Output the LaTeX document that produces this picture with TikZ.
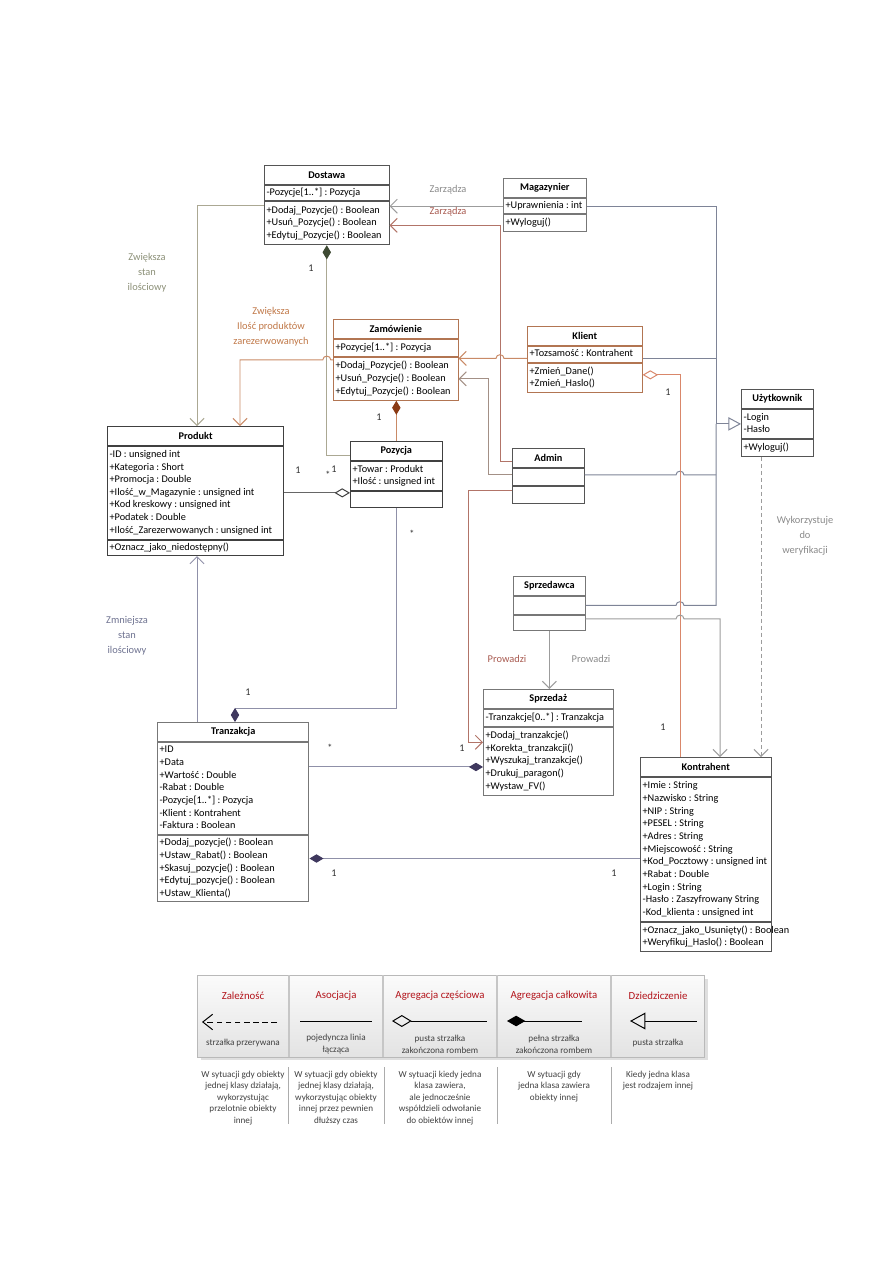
\documentclass[tikz,border=0pt]{standalone}
\usepackage{fontspec}
\setmainfont{Carlito}
\usepackage{tikz}
\usetikzlibrary{arrows.meta,calc,shadows}
\frenchspacing
\definecolor{clDark}{HTML}{555555}
\definecolor{clGray}{HTML}{777777}
\definecolor{clBrown}{HTML}{B27552}
\definecolor{lnGray}{HTML}{9C9C9C}
\definecolor{lnRed}{HTML}{B27468}
\definecolor{lnMauve}{HTML}{A39086}
\definecolor{lnOrange}{HTML}{C98A66}
\definecolor{lnCoral}{HTML}{D9876A}
\definecolor{lnOlive}{HTML}{ABA893}
\definecolor{lnSlate}{HTML}{8F90A8}
\definecolor{lnBlue}{HTML}{7E8497}
\definecolor{dmGreen}{HTML}{3E4A33}
\definecolor{dmBrown}{HTML}{8A3A14}
\definecolor{dmPurple}{HTML}{3F385E}
\definecolor{txGray}{HTML}{8A8A8A}
\definecolor{txRed}{HTML}{A85A50}
\definecolor{txOrange}{HTML}{C07848}
\definecolor{txOlive}{HTML}{8C9078}
\definecolor{txSlate}{HTML}{6E7290}
\definecolor{legRed}{HTML}{B3141B}

\newcommand{\clfont}{\fontsize{7.3}{9}\selectfont}
\newcommand{\lbfont}{\fontsize{7.4}{10.8}\selectfont}
\newcommand{\cllines}[2]{\makebox[#1pt][l]{\begin{tabular}{@{}l@{}}#2\end{tabular}}}

% class box: [border]{name}{(x,y)}{width}{title}{attr h}{attrs}{meth h}{methods}
\newcommand{\umlclass}[9][clDark]{%
  \pgfmathsetmacro{\clw}{#4*0.7087}%
  \pgfmathsetmacro{\cltw}{#4*0.7087-3}%
  \node[clpart, draw=#1, anchor=north west, minimum width=\clw pt, minimum height=13.5pt, font=\clfont\bfseries] (#2) at #3 {#5};
  \node[clpart, draw=#1, anchor=north, minimum width=\clw pt, minimum height=#6*0.7087pt] (#2-a) at (#2.south) {\cllines{\cltw}{#7}};
  \node[clpart, draw=#1, anchor=north, minimum width=\clw pt, minimum height=#8*0.7087pt] (#2-m) at (#2-a.south) {\cllines{\cltw}{#9}};
}

\tikzset{
  clpart/.style={line width=0.7pt, inner xsep=1.5pt, inner ysep=1pt, font=\clfont, fill=white},
  conn/.style={line width=0.7pt},
  assoc/.style={conn, -{Straight Barb[length=5pt,width=10pt]}},
  compos/.style={conn, -{Diamond[length=10pt,width=6pt,color=#1]}},
  aggreg/.style={conn, -{Diamond[open,length=11pt,width=6.5pt,color=#1,fill=white]}},
  inherit/.style={conn, -{Triangle[open,length=9pt,width=9.5pt,fill=white]}},
  lbl/.style={font=\lbfont, align=center},
  mult/.style={font=\clfont, black!80},
  legtitle/.style={font=\fontsize{7.7}{9}\selectfont, legRed},
  legdesc/.style={font=\fontsize{6.5}{8.5}\selectfont, align=center, black!75},
  legnote/.style={font=\fontsize{6.5}{8.2}\selectfont, align=center, black!75, anchor=north},
  legsym/.style={line width=0.7pt, black},
}

\begin{document}
\begin{tikzpicture}[x=0.025cm, y=-0.025cm]
\useasboundingbox (0,0) rectangle (893,1263);
% --- classes ---
\umlclass[clDark]{dostawa}{(264,165)}{125}{Dostawa}{14}{-Pozycje[1..*] : Pozycja}{43}{+Dodaj\_Pozycje() : Boolean\\+Usuń\_Pozycje() : Boolean\\+Edytuj\_Pozycje() : Boolean}
\umlclass[clGray]{magazynier}{(503,178)}{83}{Magazynier}{15}{+Uprawnienia : int}{17}{+Wyloguj()}
\umlclass[clBrown]{zamowienie}{(333,319)}{125}{Zamówienie}{17}{+Pozycje[1..*] : Pozycja}{43}{+Dodaj\_Pozycje() : Boolean\\+Usuń\_Pozycje() : Boolean\\+Edytuj\_Pozycje() : Boolean}
\umlclass[clBrown]{klient}{(527,326)}{115}{Klient}{16}{+Tozsamość : Kontrahent}{29}{+Zmień\_Dane()\\+Zmień\_Haslo()}
\umlclass[clDark]{uzytkownik}{(741,389)}{72}{Użytkownik}{29}{-Login\\-Hasło}{17}{+Wyloguj()}
\umlclass[black!75]{produkt}{(107,426)}{177}{Produkt}{93}{-ID : unsigned int\\+Kategoria : Short\\+Promocja : Double\\+Ilość\_w\_Magazynie : unsigned int\\+Kod kreskowy : unsigned int\\+Podatek : Double\\+Ilość\_Zarezerwowanych : unsigned int}{15}{+Oznacz\_jako\_niedostępny()}
\umlclass[black!75]{pozycja}{(350,441)}{92}{Pozycja}{29}{+Towar : Produkt\\+Ilość : unsigned int}{16}{}
\umlclass[clDark]{admin}{(512,448)}{72}{Admin}{17}{}{17}{}
\umlclass[clGray]{sprzedawca}{(513,576)}{72}{Sprzedawca}{18}{}{15}{}
\umlclass[clGray]{sprzedaz}{(483,689)}{130}{Sprzedaż}{17}{-Tranzakcje[0..*] : Tranzakcja}{68}{+Dodaj\_tranzakcje()\\+Korekta\_tranzakcji()\\+Wyszukaj\_tranzakcje()\\+Drukuj\_paragon()\\+Wystaw\_FV()}
\umlclass[clGray]{tranzakcja}{(157,722)}{152}{Tranzakcja}{92}{+ID\\+Data\\+Wartość : Double\\-Rabat : Double\\-Pozycje[1..*] : Pozycja\\-Klient : Kontrahent\\-Faktura : Boolean}{67}{+Dodaj\_pozycje() : Boolean\\+Ustaw\_Rabat() : Boolean\\+Skasuj\_pozycje() : Boolean\\+Edytuj\_pozycje() : Boolean\\+Ustaw\_Klienta()}
\umlclass[clDark]{kontrahent}{(640,757)}{131}{Kontrahent}{145}{+Imie : String\\+Nazwisko : String\\+NIP : String\\+PESEL : String\\+Adres : String\\+Miejscowość : String\\+Kod\_Pocztowy : unsigned int\\+Rabat : Double\\+Login : String\\-Hasło : Zaszyfrowany String\\-Kod\_klienta : unsigned int}{28}{+Oznacz\_jako\_Usunięty() : Boolean\\+Weryfikuj\_Haslo() : Boolean}
% --- helper points ---
\coordinate (k1) at ($(klient-a.west)+(0,4)$);
\coordinate (z1) at ($(zamowienie-m.north west)+(0,3)$);
\coordinate (a1) at ($(admin-a.east)+(0,-2)$);
\coordinate (s1) at (sprzedawca-a.east);
\coordinate (s2) at ($(sprzedawca-m.north east)+(0,4)$);
\coordinate (gf) at ($(uzytkownik-a.west)+(-25,0)$);
\coordinate (kl) at ($(kontrahent.north west)+(40,0)$);
\coordinate (kk) at ($(kontrahent.north west)+(80,0)$);
\coordinate (ud) at ($(uzytkownik-m.south west)+(20,0)$);
\coordinate (pp) at ($(pozycja-m.north west)+(0,2)$);
\coordinate (tz) at ($(tranzakcja.north west)+(40,0)$);
\coordinate (ts) at ($(tranzakcja-a.north east)+(0,25)$);
\coordinate (tk) at ($(tranzakcja-m.east)+(0,-10)$);
% --- Dostawa ---
\draw[assoc, lnGray] (magazynier-a.west) -- (magazynier-a.west -| dostawa-m.east);
\draw[assoc, lnRed] ($(admin.west)+(0,4)$) -- ++(-12,0) |- ($(dostawa-m.east)+(0,2)$);
\draw[assoc, lnOlive] ($(dostawa-m.north west)+(0,4)$) -| ($(produkt.north west)+(90,0)$);
\draw[compos=dmGreen, lnOlive] ($(pozycja.west)+(0,5)$) -| (dostawa-m.south);
% --- Zamowienie ---
\draw[assoc, lnOrange] (k1) -- ($(k1 -| admin.west)+(-8,0)$) .. controls +(0,-5) and +(0,-5) .. ($(k1 -| admin.west)+(-16,0)$) -- (k1 -| zamowienie-m.east);
\draw[assoc, lnMauve] ($(admin-a.west)+(0,-2)$) -- ++(-24,0) |- (zamowienie-m.east);
\draw[assoc, lnOrange] (z1) -- ($(z1 -| dostawa-m.south)+(4,0)$) .. controls +(0,-5) and +(0,-5) .. ($(z1 -| dostawa-m.south)+(-4,0)$) -| ($(produkt.north west)+(133,0)$);
\draw[compos=dmBrown, lnOrange] (pozycja.north) -- (pozycja.north |- zamowienie-m.south);
% --- Pozycja, Produkt, Tranzakcja ---
\draw[aggreg=black!75, black!60] (produkt-a.east |- pp) -- (pp);
\draw[compos=dmPurple, lnSlate] (pozycja-m.south) |- ($(tranzakcja.north west)+(78,-14)$) -- ($(tranzakcja.north west)+(78,0)$);
\draw[assoc, lnSlate] (tz) -- (tz |- produkt-m.south);
\draw[compos=dmPurple, lnSlate] (ts) -- (ts -| sprzedaz-m.west);
\draw[compos=dmPurple, lnSlate] (tk -| kontrahent-a.west) -- (tk);
% --- Uzytkownik ---
\draw[inherit, lnBlue] (gf) -- (uzytkownik-a.west);
\draw[conn, lnBlue] (magazynier-a.east) -| (gf);
\draw[conn, lnBlue] (k1 -| klient-a.east) -- (k1 -| gf);
\draw[conn, lnBlue] (a1) -- ($(a1 -| kl)+(-4,0)$) .. controls +(0,-5) and +(0,-5) .. ($(a1 -| kl)+(4,0)$) -- (a1 -| gf);
\draw[conn, lnBlue] (s1) -- ($(s1 -| kl)+(-4,0)$) .. controls +(0,-5) and +(0,-5) .. ($(s1 -| kl)+(4,0)$) -| (gf);
% --- Kontrahent, Sprzedaz ---
\draw[aggreg=lnCoral, lnCoral] (kl) |- ($(klient-m.east)+(0,-3)$);
\draw[assoc, lnGray] (s2) -- ($(s2 -| kl)+(-4,0)$) .. controls +(0,-5) and +(0,-5) .. ($(s2 -| kl)+(4,0)$) -| (kk);
\draw[assoc, lnGray, dash pattern=on 3pt off 2pt] (ud) -- (ud |- kontrahent.north);
\draw[assoc, lnGray] (sprzedawca-m.south) -- (sprzedawca-m.south |- sprzedaz.north);
\draw[assoc, lnRed] ($(admin-m.west)+(0,-4)$) -- ++(-44,0) |- ($(sprzedaz-m.west)+(0,-19)$);
% --- labels ---
\node[lbl, txGray] (zarzadza1) at (448,190) {Zarządza};
\node[lbl, txRed] (zarzadza2) at (448,212) {Zarządza};
\node[lbl, txOlive] (zwiekszaS) at (147,273) {Zwiększa\\stan\\ilościowy};
\node[lbl, txOrange] (zwiekszaI) at (271,327) {Zwiększa\\Ilość produktów\\zarezerwowanych};
\node[lbl, txSlate] (zmniejsza) at (127,636) {Zmniejsza\\stan\\ilościowy};
\node[lbl, txRed] (prowadzi1) at (507,659) {Prowadzi};
\node[lbl, txGray] (prowadzi2) at (591,659) {Prowadzi};
\node[lbl, txGray] (wykorzystuje) at (805,536) {Wykorzystuje\\do\\weryfikacji};
% --- multiplicities ---
\node[mult] (m1) at (311,268) {1};
\node[mult] (m2) at (328,475) {*};
\node[mult] (m3) at (334,469) {1};
\node[mult] (m4) at (298,470) {1};
\node[mult] (m5) at (379,417) {1};
\node[mult] (m6) at (412,534) {*};
\node[mult] (m7) at (248,692) {1};
\node[mult] (m8) at (330,748) {*};
\node[mult] (m9) at (462,748) {1};
\node[mult] (m10) at (334,873) {1};
\node[mult] (m11) at (614,873) {1};
\node[mult] (m12) at (668,392) {1};
\node[mult] (m13) at (663,727) {1};
% --- legend ---
\node[draw=gray!55, top color=gray!3, bottom color=gray!22, drop shadow={opacity=0.25}, anchor=north west, minimum width=509*0.7087pt, minimum height=82*0.7087pt, inner sep=0pt] (legend) at (197,975) {};
\foreach \lx in {289,383,497,611}
  \draw[gray!45, line width=0.8pt] (\lx,975) -- (\lx,1057);
\node[legtitle] (lgZal) at (243,996) {Zależność};
\node[legtitle] (lgAso) at (336,996) {Asocjacja};
\node[legtitle] (lgAgc) at (440,996) {Agregacja częściowa};
\node[legtitle] (lgAgk) at (554,996) {Agregacja całkowita};
\node[legtitle] (lgDzi) at (658,996) {Dziedziczenie};
\draw[legsym, dash pattern=on 4pt off 2.5pt, -{Straight Barb[length=7pt,width=11pt]}] (277,1022) -- (202,1022);
\draw[legsym] (300,1021) -- (372,1021);
\draw[legsym, {Diamond[open,length=14pt,width=8.5pt]}-] (392,1021) -- (487,1021);
\draw[legsym, {Diamond[length=13pt,width=7.5pt]}-] (507,1021) -- (582,1021);
\draw[legsym, {Triangle[open,length=11pt,width=12pt]}-] (630,1021) -- (697,1021);
\node[legdesc] (ldZal) at (243,1043) {strzałka przerywana};
\node[legdesc] (ldAso) at (336,1044) {pojedyncza linia\\łącząca};
\node[legdesc] (ldAgc) at (440,1044) {pusta strzałka\\zakończona rombem};
\node[legdesc] (ldAgk) at (554,1044) {pełna strzałka\\zakończona rombem};
\node[legdesc] (ldDzi) at (658,1043) {pusta strzałka};
\foreach \lx in {288,384,497,611}
  \draw[gray!65, line width=0.7pt] (\lx,1067) -- (\lx,1124);
\node[legnote] (lwZal) at (243,1066) {W sytuacji gdy obiekty\\jednej klasy działają,\\wykorzystując\\przelotnie obiekty\\innej};
\node[legnote] (lwAso) at (336,1066) {W sytuacji gdy obiekty\\jednej klasy działają,\\wykorzystując obiekty\\innej przez pewnien\\dłuższy czas};
\node[legnote] (lwAgc) at (440,1066) {W sytuacji kiedy jedna\\klasa zawiera,\\ale jednocześnie\\współdzieli odwołanie\\do obiektów innej};
\node[legnote] (lwAgk) at (554,1066) {W sytuacji gdy\\jedna klasa zawiera\\obiekty innej};
\node[legnote] (lwDzi) at (658,1066) {Kiedy jedna klasa\\jest rodzajem innej};
\end{tikzpicture}
\end{document}
